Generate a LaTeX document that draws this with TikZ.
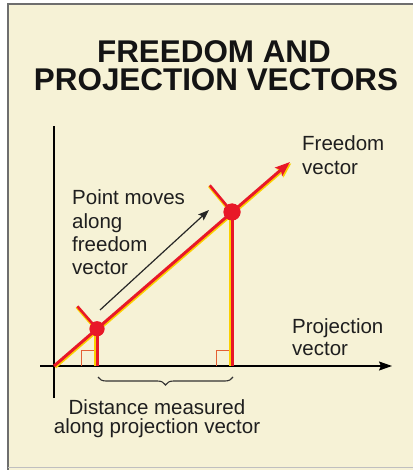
\documentclass[tikz,border=0pt]{standalone}
\usepackage{fontspec}
\setmainfont{Liberation Sans}
\usetikzlibrary{arrows.meta,decorations.pathreplacing}
\definecolor{cream}{RGB}{246,242,214}
\definecolor{vred}{RGB}{232,24,40}
\definecolor{vyel}{RGB}{250,208,0}
\definecolor{sqcol}{RGB}{228,96,52}
\definecolor{framegray}{RGB}{110,110,110}
\newcommand\lblL[1]{\vtop{\halign{##\hfil\cr #1\crcr}}}
\newcommand\lblC[1]{\vtop{\halign{\hfil##\hfil\cr #1\crcr}}}
\tikzset{
  redvec/.style={draw=vred, line width=3bp},
  shadowvec/.style={draw=vyel, line width=2.6bp},
  axis/.style={draw=black, line width=1.4bp},
  dot/.style={circle, fill=vred, inner sep=0pt, minimum size=#1},
  sqmark/.style={draw=sqcol, line width=1bp},
  lbl/.style={inner sep=0pt, font=\fontsize{20.5bp}{23bp}\selectfont, text=black!88},
  titlefont/.style={inner sep=0pt, anchor=base, font=\fontsize{31.4bp}{28bp}\selectfont\bfseries, text=black!92},
}
\begin{document}
\begin{tikzpicture}[x=1bp,y=-1bp]
\useasboundingbox (0,0) rectangle (413,470);
\fill[white] (0,0) rectangle (413,470);
\fill[cream] (8,4) rectangle (413,470);
\draw[framegray, line width=2bp] (8,470) -- (8,4) -- (413,4);
\draw[black!25, line width=0.8bp] (8,467) -- (413,467);

% title
\node[titlefont] (title1) at (214,63) {FREEDOM AND};
\node[titlefont] (title2) at (216,91) {PROJECTION VECTORS};

% coordinates
\coordinate (O) at (54,366);
\coordinate (T) at (290,162);
\coordinate (yb) at (54,398);
\coordinate (yt) at (54,126);
\coordinate (xl) at (40,366);
\coordinate (xr) at (392,366);
\coordinate (f1) at (97,366);
\coordinate (f2) at (232,366);
\coordinate (t1) at (77.4,306.3);
\coordinate (t2) at (209.8,185.3);
\coordinate (as) at (100,310);
\coordinate (ae) at (209,210);
\coordinate (bl) at (98,377);
\coordinate (br) at (233,377);

% axes
\draw[axis] (yb) -- (yt);
\draw[axis, -{Stealth[length=13bp,width=9bp,inset=2bp]}] (xl) -- (xr);

% right-angle marks
\draw[sqmark] (81,366) -- (81,350) -- (95,350) -- (95,366);
\draw[sqmark] (216.5,366) -- (216.5,350) -- (230,350) -- (230,366);

% dots (nodes)
\node[dot=15bp] (p1) at (97,328.8) {};
\node[dot=17bp] (p2) at (232,212) {};

% shadows
\draw[shadowvec, transform canvas={shift={(1.3,1.3)}}, -{Stealth[length=15bp,width=11bp,inset=3bp]}] (O) -- (T);
\draw[shadowvec, transform canvas={shift={(-1.6,0)}}] (p1.center) -- (f1);
\draw[shadowvec, transform canvas={shift={(-1.6,0)}}] (p2.center) -- (f2);
\draw[shadowvec, line width=2bp, transform canvas={shift={(-1,1)}}] (p1.center) -- (t1);
\draw[shadowvec, line width=2bp, transform canvas={shift={(-1,1)}}] (p2.center) -- (t2);

% red vectors
\draw[redvec, -{Stealth[length=15bp,width=11bp,inset=3bp]}] (O) -- (T);
\draw[redvec] (p1.center) -- (f1);
\draw[redvec] (p2.center) -- (f2);
\draw[redvec, line width=2.6bp] (p1.center) -- (t1);
\draw[redvec, line width=2.6bp] (p2.center) -- (t2);
\node[dot=15bp] at (p1) {};
\node[dot=17bp] at (p2) {};

% motion arrow
\draw[black!85, line width=1.2bp, -{Stealth[length=11bp,width=8bp,inset=2bp]}] (as) -- (ae);

% brace
\draw[black!80, line width=1.1bp, decorate, decoration={brace, mirror, amplitude=8bp}] (bl) -- (br);

% labels
\node[lbl, anchor=base west] (lfree) at (302,150.7) {\fontsize{20.5bp}{24bp}\selectfont\lblL{Freedom\cr vector}};
\node[lbl, anchor=base west] (lproj) at (292,333) {\fontsize{20.5bp}{22bp}\selectfont\lblL{Projection\cr vector}};
\node[lbl, anchor=base west] (lmove) at (72,205) {\fontsize{20.5bp}{23.3bp}\selectfont\lblL{Point moves\cr along\cr freedom\cr vector}};
\node[lbl, anchor=base] (ldist) at (157,414) {\fontsize{20.5bp}{19.5bp}\selectfont\lblC{Distance measured\cr along projection vector}};
\end{tikzpicture}
\end{document}
